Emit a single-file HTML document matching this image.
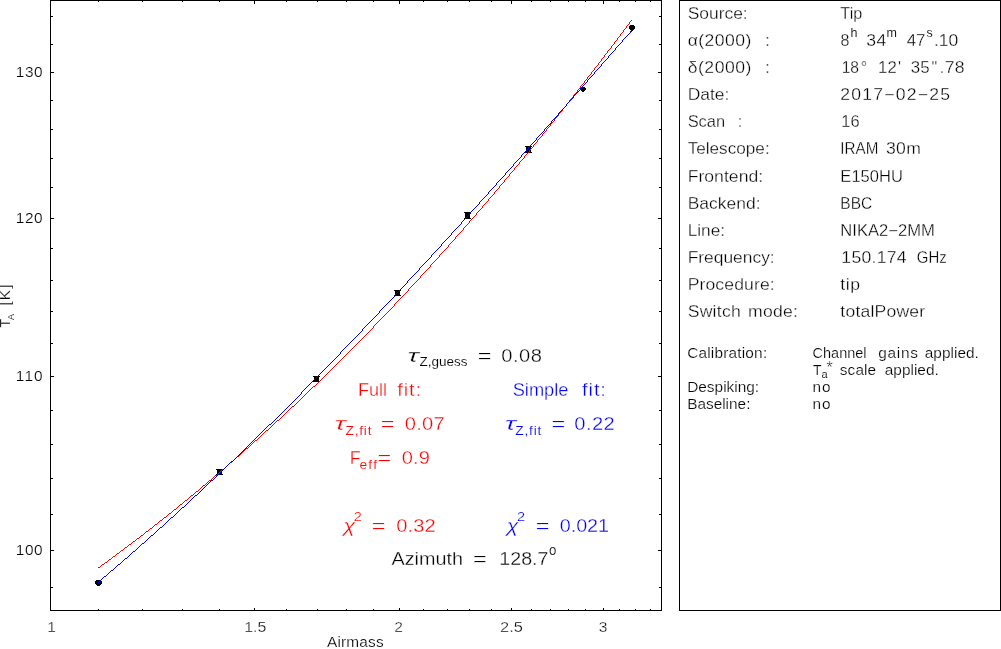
<!DOCTYPE html><html><head><meta charset="utf-8"><title>Tip</title><style>
html,body{margin:0;padding:0;background:#fff;}body{width:1001px;height:649px;overflow:hidden;font-family:"Liberation Sans",sans-serif;}
svg{display:block;position:absolute;left:0;top:0}
text{font-family:"Liberation Sans",sans-serif;fill:#000;stroke:#fff;stroke-width:0.3px;paint-order:fill stroke}
text.s{stroke-width:0.2px}text.n{stroke-width:0.12px}
.r{fill:#ff0000}.b{fill:#0000ff}
</style></head><body>
<svg width="1001" height="649" viewBox="0 0 1001 649" style="will-change:transform">
<rect x="0" y="0" width="1001" height="649" fill="#fff"/>
<g fill="#000" shape-rendering="crispEdges">
<path d="M50 0h612v1h-612zM50 610h612v1h-612zM50 0h1v611h-1zM661 0h1v611h-1zM679 0h322v1h-322zM679 610h322v1h-322zM679 0h1v611h-1zM1000 0h1v611h-1zM98 0h1v2h-1zM98 609h1v2h-1zM142 0h1v2h-1zM142 609h1v2h-1zM182 0h1v2h-1zM182 609h1v2h-1zM219 0h1v2h-1zM219 609h1v2h-1zM254 0h1v4h-1zM254 608h1v3h-1zM286 0h1v2h-1zM286 609h1v2h-1zM317 0h1v2h-1zM317 609h1v2h-1zM346 0h1v2h-1zM346 609h1v2h-1zM373 0h1v2h-1zM373 609h1v2h-1zM399 0h1v4h-1zM399 608h1v3h-1zM423 0h1v2h-1zM423 609h1v2h-1zM447 0h1v2h-1zM447 609h1v2h-1zM469 0h1v2h-1zM469 609h1v2h-1zM491 0h1v2h-1zM491 609h1v2h-1zM511 0h1v4h-1zM511 608h1v3h-1zM531 0h1v2h-1zM531 609h1v2h-1zM550 0h1v2h-1zM550 609h1v2h-1zM568 0h1v2h-1zM568 609h1v2h-1zM585 0h1v2h-1zM585 609h1v2h-1zM603 0h1v4h-1zM603 608h1v3h-1zM619 0h1v2h-1zM619 609h1v2h-1zM635 0h1v2h-1zM635 609h1v2h-1zM650 0h1v2h-1zM650 609h1v2h-1zM50 587h3v1h-3zM659 587h3v1h-3zM50 550h4v1h-4zM658 550h4v1h-4zM50 514h3v1h-3zM659 514h3v1h-3zM50 478h3v1h-3zM659 478h3v1h-3zM50 444h3v1h-3zM659 444h3v1h-3zM50 410h3v1h-3zM659 410h3v1h-3zM50 376h4v1h-4zM658 376h4v1h-4zM50 343h3v1h-3zM659 343h3v1h-3zM50 311h3v1h-3zM659 311h3v1h-3zM50 280h3v1h-3zM659 280h3v1h-3zM50 248h3v1h-3zM659 248h3v1h-3zM50 218h4v1h-4zM658 218h4v1h-4zM50 187h3v1h-3zM659 187h3v1h-3zM50 158h3v1h-3zM659 158h3v1h-3zM50 129h3v1h-3zM659 129h3v1h-3zM50 100h3v1h-3zM659 100h3v1h-3zM50 72h4v1h-4zM658 72h4v1h-4zM50 44h3v1h-3zM659 44h3v1h-3zM50 16h3v1h-3zM659 16h3v1h-3z"/>
</g>
<g fill="#000" shape-rendering="crispEdges">
<path d="M96 580h5v1h1v3h-1v1h-1v1h-3v-1h-1v-1h-1v-3h1z"/>
<path d="M216 469h7v1h-1v4h1v1h-7v-1h1v-4h-1z"/>
<path d="M313 376h7v1h-1v4h1v1h-7v-1h1v-4h-1z"/>
<path d="M394 290h7v1h-1v4h1v1h-7v-1h1v-4h-1z"/>
<path d="M464 212h7v1h-1v5h1v1h-7v-1h1v-5h-1z"/>
<path d="M525 146h7v1h-1v5h1v1h-7v-1h1v-5h-1z"/>
<path d="M581 87h4v1h1v2h-1v1h-1v1h-2v-1h-1v-1h-1v-2h1z"/>
<path d="M630 25h4v1h1v3h-1v1h-1v1h-2v-1h-1v-1h-1v-3h1z"/>
</g>
<g shape-rendering="crispEdges">
<path fill="#ff0000" d="M98 567h1v1h-1zM99 567h1v1h-1zM100 566h1v1h-1zM101 565h1v1h-1zM102 564h1v1h-1zM103 564h1v1h-1zM104 563h1v1h-1zM105 562h1v1h-1zM106 562h1v1h-1zM107 561h1v1h-1zM108 560h1v1h-1zM109 559h1v1h-1zM110 559h1v1h-1zM111 558h1v1h-1zM112 557h1v1h-1zM113 556h1v1h-1zM114 556h1v1h-1zM115 555h1v1h-1zM116 554h1v1h-1zM117 553h1v1h-1zM118 553h1v1h-1zM119 552h1v1h-1zM120 551h1v1h-1zM121 550h1v1h-1zM122 550h1v1h-1zM123 549h1v1h-1zM124 548h1v1h-1zM125 547h1v1h-1zM126 547h1v1h-1zM127 546h1v1h-1zM128 545h1v1h-1zM129 544h1v1h-1zM130 544h1v1h-1zM131 543h1v1h-1zM132 542h1v1h-1zM133 541h1v1h-1zM134 541h1v1h-1zM135 540h1v1h-1zM136 539h1v1h-1zM137 538h1v1h-1zM138 538h1v1h-1zM139 537h1v1h-1zM140 536h1v1h-1zM141 535h1v1h-1zM142 535h1v1h-1zM143 534h1v1h-1zM144 533h1v1h-1zM145 532h1v1h-1zM146 531h1v1h-1zM147 531h1v1h-1zM148 530h1v1h-1zM149 529h1v1h-1zM150 528h1v1h-1zM151 528h1v1h-1zM152 527h1v1h-1zM153 526h1v1h-1zM154 525h1v1h-1zM155 524h1v1h-1zM156 524h1v1h-1zM157 523h1v1h-1zM158 522h1v1h-1zM159 521h1v1h-1zM160 520h1v1h-1zM161 520h1v1h-1zM162 519h1v1h-1zM163 518h1v1h-1zM164 517h1v1h-1zM165 517h1v1h-1zM166 516h1v1h-1zM167 515h1v1h-1zM168 514h1v1h-1zM169 513h1v1h-1zM170 513h1v1h-1zM171 512h1v1h-1zM172 511h1v1h-1zM173 510h1v1h-1zM174 509h1v1h-1zM175 509h1v1h-1zM176 508h1v1h-1zM177 507h1v1h-1zM178 506h1v1h-1zM179 505h1v1h-1zM180 504h1v1h-1zM181 504h1v1h-1zM182 503h1v1h-1zM183 502h1v1h-1zM184 501h1v1h-1zM185 500h1v1h-1zM186 500h1v1h-1zM187 499h1v1h-1zM188 498h1v1h-1zM189 497h1v1h-1zM190 496h1v1h-1zM191 495h1v1h-1zM192 495h1v1h-1zM193 494h1v1h-1zM194 493h1v1h-1zM195 492h1v1h-1zM196 491h1v1h-1zM197 491h1v1h-1zM198 490h1v1h-1zM199 489h1v1h-1zM200 488h1v1h-1zM201 487h1v1h-1zM202 486h1v1h-1zM203 485h1v1h-1zM204 485h1v1h-1zM205 484h1v1h-1zM206 483h1v1h-1zM207 482h1v1h-1zM208 481h1v1h-1zM209 480h1v1h-1zM210 480h1v1h-1zM211 479h1v1h-1zM212 478h1v1h-1zM213 477h1v1h-1zM214 476h1v1h-1zM215 475h1v1h-1zM216 475h1v1h-1zM217 474h1v1h-1zM218 473h1v1h-1zM219 472h1v1h-1zM220 471h1v1h-1zM221 470h1v1h-1zM222 469h1v1h-1zM223 469h1v1h-1zM224 468h1v1h-1zM225 467h1v1h-1zM226 466h1v1h-1zM227 465h1v1h-1zM228 464h1v1h-1zM229 463h1v1h-1zM230 462h1v1h-1zM231 462h1v1h-1zM232 461h1v1h-1zM233 460h1v1h-1zM234 459h1v1h-1zM235 458h1v1h-1zM236 457h1v1h-1zM237 456h1v1h-1zM238 456h1v1h-1zM239 455h1v1h-1zM240 454h1v1h-1zM241 453h1v1h-1zM242 452h1v1h-1zM243 451h1v1h-1zM244 450h1v1h-1zM245 449h1v1h-1zM246 448h1v1h-1zM247 448h1v1h-1zM248 447h1v1h-1zM249 446h1v1h-1zM250 445h1v1h-1zM251 444h1v1h-1zM252 443h1v1h-1zM253 442h1v1h-1zM254 441h1v1h-1zM255 440h1v1h-1zM256 440h1v1h-1zM257 439h1v1h-1zM258 438h1v1h-1zM259 437h1v1h-1zM260 436h1v1h-1zM261 435h1v1h-1zM262 434h1v1h-1zM263 433h1v1h-1zM264 432h1v1h-1zM265 431h1v1h-1zM266 430h1v1h-1zM267 430h1v1h-1zM268 429h1v1h-1zM269 428h1v1h-1zM270 427h1v1h-1zM271 426h1v1h-1zM272 425h1v1h-1zM273 424h1v1h-1zM274 423h1v1h-1zM275 422h1v1h-1zM276 421h1v1h-1zM277 420h1v1h-1zM278 420h1v1h-1zM279 419h1v1h-1zM280 418h1v1h-1zM281 417h1v1h-1zM282 416h1v1h-1zM283 415h1v1h-1zM284 414h1v1h-1zM285 413h1v1h-1zM286 412h1v1h-1zM287 411h1v1h-1zM288 410h1v1h-1zM289 409h1v1h-1zM290 408h1v1h-1zM291 407h1v1h-1zM292 406h1v1h-1zM293 406h1v1h-1zM294 405h1v1h-1zM295 404h1v1h-1zM296 403h1v1h-1zM297 402h1v1h-1zM298 401h1v1h-1zM299 400h1v1h-1zM300 399h1v1h-1zM301 398h1v1h-1zM302 397h1v1h-1zM303 396h1v1h-1zM304 395h1v1h-1zM305 394h1v1h-1zM306 393h1v1h-1zM307 392h1v1h-1zM308 391h1v1h-1zM309 390h1v1h-1zM310 389h1v1h-1zM311 388h1v1h-1zM312 387h1v1h-1zM313 386h1v1h-1zM314 386h1v1h-1zM315 385h1v1h-1zM316 384h1v1h-1zM317 383h1v1h-1zM318 382h1v1h-1zM319 381h1v1h-1zM320 380h1v1h-1zM321 379h1v1h-1zM322 378h1v1h-1zM323 377h1v1h-1zM324 376h1v1h-1zM325 375h1v1h-1zM326 374h1v1h-1zM327 373h1v1h-1zM328 372h1v1h-1zM329 371h1v1h-1zM330 370h1v1h-1zM331 369h1v1h-1zM332 368h1v1h-1zM333 367h1v1h-1zM334 366h1v1h-1zM335 365h1v1h-1zM336 364h1v1h-1zM337 363h1v1h-1zM338 362h1v1h-1zM339 361h1v1h-1zM340 360h1v1h-1zM341 359h1v1h-1zM342 358h1v1h-1zM343 357h1v1h-1zM344 356h1v1h-1zM345 355h1v1h-1zM346 354h1v1h-1zM347 353h1v1h-1zM348 352h1v1h-1zM349 351h1v1h-1zM350 350h1v1h-1zM351 349h1v1h-1zM352 348h1v1h-1zM353 347h1v1h-1zM354 346h1v1h-1zM355 345h1v1h-1zM356 344h1v1h-1zM357 343h1v1h-1zM358 342h1v1h-1zM359 341h1v1h-1zM360 340h1v1h-1zM361 339h1v1h-1zM362 338h1v1h-1zM363 337h1v1h-1zM364 336h1v1h-1zM365 335h1v1h-1zM366 334h1v1h-1zM367 333h1v1h-1zM368 332h1v1h-1zM369 331h1v1h-1zM370 330h1v1h-1zM371 329h1v1h-1zM372 328h1v1h-1zM373 327h1v1h-1zM373 326h1v1h-1zM374 325h1v1h-1zM375 324h1v1h-1zM376 323h1v1h-1zM377 322h1v1h-1zM378 321h1v1h-1zM379 320h1v1h-1zM380 319h1v1h-1zM381 318h1v1h-1zM382 317h1v1h-1zM383 316h1v1h-1zM384 315h1v1h-1zM385 314h1v1h-1zM386 313h1v1h-1zM387 312h1v1h-1zM388 311h1v1h-1zM389 310h1v1h-1zM390 309h1v1h-1zM391 308h1v1h-1zM392 307h1v1h-1zM393 306h1v1h-1zM394 305h1v1h-1zM394 304h1v1h-1zM395 303h1v1h-1zM396 302h1v1h-1zM397 301h1v1h-1zM398 300h1v1h-1zM399 299h1v1h-1zM400 298h1v1h-1zM401 297h1v1h-1zM402 296h1v1h-1zM403 295h1v1h-1zM404 294h1v1h-1zM405 293h1v1h-1zM406 292h1v1h-1zM407 291h1v1h-1zM408 290h1v1h-1zM408 289h1v1h-1zM409 288h1v1h-1zM410 287h1v1h-1zM411 286h1v1h-1zM412 285h1v1h-1zM413 284h1v1h-1zM414 283h1v1h-1zM415 282h1v1h-1zM416 281h1v1h-1zM417 280h1v1h-1zM418 279h1v1h-1zM419 278h1v1h-1zM420 277h1v1h-1zM420 276h1v1h-1zM421 275h1v1h-1zM422 274h1v1h-1zM423 273h1v1h-1zM424 272h1v1h-1zM425 271h1v1h-1zM426 270h1v1h-1zM427 269h1v1h-1zM428 268h1v1h-1zM429 267h1v1h-1zM430 266h1v1h-1zM430 265h1v1h-1zM431 264h1v1h-1zM432 263h1v1h-1zM433 262h1v1h-1zM434 261h1v1h-1zM435 260h1v1h-1zM436 259h1v1h-1zM437 258h1v1h-1zM438 257h1v1h-1zM439 256h1v1h-1zM439 255h1v1h-1zM440 254h1v1h-1zM441 253h1v1h-1zM442 252h1v1h-1zM443 251h1v1h-1zM444 250h1v1h-1zM445 249h1v1h-1zM446 248h1v1h-1zM447 247h1v1h-1zM448 246h1v1h-1zM448 245h1v1h-1zM449 244h1v1h-1zM450 243h1v1h-1zM451 242h1v1h-1zM452 241h1v1h-1zM453 240h1v1h-1zM454 239h1v1h-1zM455 238h1v1h-1zM455 237h1v1h-1zM456 236h1v1h-1zM457 235h1v1h-1zM458 234h1v1h-1zM459 233h1v1h-1zM460 232h1v1h-1zM461 231h1v1h-1zM462 230h1v1h-1zM463 229h1v1h-1zM463 228h1v1h-1zM464 227h1v1h-1zM465 226h1v1h-1zM466 225h1v1h-1zM467 224h1v1h-1zM468 223h1v1h-1zM469 222h1v1h-1zM469 221h1v1h-1zM470 220h1v1h-1zM471 219h1v1h-1zM472 218h1v1h-1zM473 217h1v1h-1zM474 216h1v1h-1zM475 215h1v1h-1zM476 214h1v1h-1zM476 213h1v1h-1zM477 212h1v1h-1zM478 211h1v1h-1zM479 210h1v1h-1zM480 209h1v1h-1zM481 208h1v1h-1zM482 207h1v1h-1zM482 206h1v1h-1zM483 205h1v1h-1zM484 204h1v1h-1zM485 203h1v1h-1zM486 202h1v1h-1zM487 201h1v1h-1zM488 200h1v1h-1zM488 199h1v1h-1zM489 198h1v1h-1zM490 197h1v1h-1zM491 196h1v1h-1zM492 195h1v1h-1zM493 194h1v1h-1zM494 193h1v1h-1zM494 192h1v1h-1zM495 191h1v1h-1zM496 190h1v1h-1zM497 189h1v1h-1zM498 188h1v1h-1zM499 187h1v1h-1zM499 186h1v1h-1zM500 185h1v1h-1zM501 184h1v1h-1zM502 183h1v1h-1zM503 182h1v1h-1zM504 181h1v1h-1zM504 180h1v1h-1zM505 179h1v1h-1zM506 178h1v1h-1zM507 177h1v1h-1zM508 176h1v1h-1zM509 175h1v1h-1zM509 174h1v1h-1zM510 173h1v1h-1zM511 172h1v1h-1zM512 171h1v1h-1zM513 170h1v1h-1zM514 169h1v1h-1zM514 168h1v1h-1zM515 167h1v1h-1zM516 166h1v1h-1zM517 165h1v1h-1zM518 164h1v1h-1zM519 163h1v1h-1zM519 162h1v1h-1zM520 161h1v1h-1zM521 160h1v1h-1zM522 159h1v1h-1zM523 158h1v1h-1zM524 157h1v1h-1zM524 156h1v1h-1zM525 155h1v1h-1zM526 154h1v1h-1zM527 153h1v1h-1zM528 152h1v1h-1zM529 151h1v1h-1zM529 150h1v1h-1zM530 149h1v1h-1zM531 148h1v1h-1zM532 147h1v1h-1zM533 146h1v1h-1zM533 145h1v1h-1zM534 144h1v1h-1zM535 143h1v1h-1zM536 142h1v1h-1zM537 141h1v1h-1zM537 140h1v1h-1zM538 139h1v1h-1zM539 138h1v1h-1zM540 137h1v1h-1zM541 136h1v1h-1zM542 135h1v1h-1zM542 134h1v1h-1zM543 133h1v1h-1zM544 132h1v1h-1zM545 131h1v1h-1zM546 130h1v1h-1zM546 129h1v1h-1zM547 128h1v1h-1zM548 127h1v1h-1zM549 126h1v1h-1zM550 125h1v1h-1zM550 124h1v1h-1zM551 123h1v1h-1zM552 122h1v1h-1zM553 121h1v1h-1zM554 120h1v1h-1zM554 119h1v1h-1zM555 118h1v1h-1zM556 117h1v1h-1zM557 116h1v1h-1zM558 115h1v1h-1zM558 114h1v1h-1zM559 113h1v1h-1zM560 112h1v1h-1zM561 111h1v1h-1zM562 110h1v1h-1zM562 109h1v1h-1zM563 108h1v1h-1zM564 107h1v1h-1zM565 106h1v1h-1zM566 105h1v1h-1zM566 104h1v1h-1zM567 103h1v1h-1zM568 102h1v1h-1zM569 101h1v1h-1zM569 100h1v1h-1zM570 99h1v1h-1zM571 98h1v1h-1zM572 97h1v1h-1zM573 96h1v1h-1zM573 95h1v1h-1zM574 94h1v1h-1zM575 93h1v1h-1zM576 92h1v1h-1zM577 91h1v1h-1zM577 90h1v1h-1zM578 89h1v1h-1zM579 88h1v1h-1zM580 87h1v1h-1zM580 86h1v1h-1zM581 85h1v1h-1zM582 84h1v1h-1zM583 83h1v1h-1zM584 82h1v1h-1zM584 81h1v1h-1zM585 80h1v1h-1zM586 79h1v1h-1zM587 78h1v1h-1zM587 77h1v1h-1zM588 76h1v1h-1zM589 75h1v1h-1zM590 74h1v1h-1zM591 73h1v1h-1zM591 72h1v1h-1zM592 71h1v1h-1zM593 70h1v1h-1zM594 69h1v1h-1zM594 68h1v1h-1zM595 67h1v1h-1zM596 66h1v1h-1zM597 65h1v1h-1zM598 64h1v1h-1zM598 63h1v1h-1zM599 62h1v1h-1zM600 61h1v1h-1zM601 60h1v1h-1zM601 59h1v1h-1zM602 58h1v1h-1zM603 57h1v1h-1zM604 56h1v1h-1zM604 55h1v1h-1zM605 54h1v1h-1zM606 53h1v1h-1zM607 52h1v1h-1zM607 51h1v1h-1zM608 50h1v1h-1zM609 49h1v1h-1zM610 48h1v1h-1zM611 47h1v1h-1zM611 46h1v1h-1zM612 45h1v1h-1zM613 44h1v1h-1zM614 43h1v1h-1zM614 42h1v1h-1zM615 41h1v1h-1zM616 40h1v1h-1zM617 39h1v1h-1zM617 38h1v1h-1zM618 37h1v1h-1zM619 36h1v1h-1zM620 35h1v1h-1zM620 34h1v1h-1zM621 33h1v1h-1zM622 32h1v1h-1zM623 31h1v1h-1zM623 30h1v1h-1zM624 29h1v1h-1zM625 28h1v1h-1zM626 27h1v1h-1zM626 26h1v1h-1zM627 25h1v1h-1zM628 24h1v1h-1zM629 23h1v1h-1zM629 22h1v1h-1zM630 21h1v1h-1zM631 20h1v1h-1z"/>
<path fill="#0000ff" d="M98 582h1v1h-1zM99 581h1v1h-1zM100 580h1v1h-1zM101 579h1v1h-1zM102 578h1v1h-1zM103 577h1v1h-1zM104 576h1v1h-1zM105 576h1v1h-1zM106 575h1v1h-1zM107 574h1v1h-1zM108 573h1v1h-1zM109 572h1v1h-1zM110 571h1v1h-1zM111 570h1v1h-1zM112 570h1v1h-1zM113 569h1v1h-1zM114 568h1v1h-1zM115 567h1v1h-1zM116 566h1v1h-1zM117 565h1v1h-1zM118 564h1v1h-1zM119 564h1v1h-1zM120 563h1v1h-1zM121 562h1v1h-1zM122 561h1v1h-1zM123 560h1v1h-1zM124 559h1v1h-1zM125 558h1v1h-1zM126 558h1v1h-1zM127 557h1v1h-1zM128 556h1v1h-1zM129 555h1v1h-1zM130 554h1v1h-1zM131 553h1v1h-1zM132 552h1v1h-1zM133 551h1v1h-1zM134 551h1v1h-1zM135 550h1v1h-1zM136 549h1v1h-1zM137 548h1v1h-1zM138 547h1v1h-1zM139 546h1v1h-1zM140 545h1v1h-1zM141 544h1v1h-1zM142 543h1v1h-1zM143 543h1v1h-1zM144 542h1v1h-1zM145 541h1v1h-1zM146 540h1v1h-1zM147 539h1v1h-1zM148 538h1v1h-1zM149 537h1v1h-1zM150 536h1v1h-1zM151 535h1v1h-1zM152 535h1v1h-1zM153 534h1v1h-1zM154 533h1v1h-1zM155 532h1v1h-1zM156 531h1v1h-1zM157 530h1v1h-1zM158 529h1v1h-1zM159 528h1v1h-1zM160 527h1v1h-1zM161 527h1v1h-1zM162 526h1v1h-1zM163 525h1v1h-1zM164 524h1v1h-1zM165 523h1v1h-1zM166 522h1v1h-1zM167 521h1v1h-1zM168 520h1v1h-1zM169 519h1v1h-1zM170 518h1v1h-1zM171 517h1v1h-1zM172 517h1v1h-1zM173 516h1v1h-1zM174 515h1v1h-1zM175 514h1v1h-1zM176 513h1v1h-1zM177 512h1v1h-1zM178 511h1v1h-1zM179 510h1v1h-1zM180 509h1v1h-1zM181 508h1v1h-1zM182 507h1v1h-1zM183 507h1v1h-1zM184 506h1v1h-1zM185 505h1v1h-1zM186 504h1v1h-1zM187 503h1v1h-1zM188 502h1v1h-1zM189 501h1v1h-1zM190 500h1v1h-1zM191 499h1v1h-1zM192 498h1v1h-1zM193 497h1v1h-1zM194 496h1v1h-1zM195 495h1v1h-1zM196 495h1v1h-1zM197 494h1v1h-1zM198 493h1v1h-1zM199 492h1v1h-1zM200 491h1v1h-1zM201 490h1v1h-1zM202 489h1v1h-1zM203 488h1v1h-1zM204 487h1v1h-1zM205 486h1v1h-1zM206 485h1v1h-1zM207 484h1v1h-1zM208 483h1v1h-1zM209 482h1v1h-1zM210 481h1v1h-1zM211 480h1v1h-1zM212 480h1v1h-1zM213 479h1v1h-1zM214 478h1v1h-1zM215 477h1v1h-1zM216 476h1v1h-1zM217 475h1v1h-1zM218 474h1v1h-1zM219 473h1v1h-1zM220 472h1v1h-1zM221 471h1v1h-1zM222 470h1v1h-1zM223 469h1v1h-1zM224 468h1v1h-1zM225 467h1v1h-1zM226 466h1v1h-1zM227 465h1v1h-1zM228 464h1v1h-1zM229 463h1v1h-1zM230 462h1v1h-1zM231 461h1v1h-1zM232 461h1v1h-1zM233 460h1v1h-1zM234 459h1v1h-1zM235 458h1v1h-1zM236 457h1v1h-1zM237 456h1v1h-1zM238 455h1v1h-1zM239 454h1v1h-1zM240 453h1v1h-1zM241 452h1v1h-1zM242 451h1v1h-1zM243 450h1v1h-1zM244 449h1v1h-1zM245 448h1v1h-1zM246 447h1v1h-1zM247 446h1v1h-1zM248 445h1v1h-1zM249 444h1v1h-1zM250 443h1v1h-1zM251 442h1v1h-1zM252 441h1v1h-1zM253 440h1v1h-1zM254 439h1v1h-1zM255 438h1v1h-1zM256 437h1v1h-1zM257 436h1v1h-1zM258 435h1v1h-1zM259 434h1v1h-1zM260 433h1v1h-1zM261 432h1v1h-1zM262 431h1v1h-1zM263 430h1v1h-1zM264 429h1v1h-1zM265 428h1v1h-1zM266 427h1v1h-1zM267 426h1v1h-1zM268 425h1v1h-1zM269 424h1v1h-1zM270 424h1v1h-1zM271 423h1v1h-1zM272 422h1v1h-1zM273 421h1v1h-1zM274 420h1v1h-1zM275 419h1v1h-1zM276 418h1v1h-1zM277 417h1v1h-1zM278 416h1v1h-1zM279 415h1v1h-1zM280 414h1v1h-1zM281 413h1v1h-1zM282 412h1v1h-1zM283 411h1v1h-1zM284 410h1v1h-1zM285 409h1v1h-1zM286 408h1v1h-1zM287 407h1v1h-1zM288 406h1v1h-1zM289 405h1v1h-1zM290 404h1v1h-1zM291 403h1v1h-1zM292 402h1v1h-1zM293 401h1v1h-1zM294 400h1v1h-1zM295 399h1v1h-1zM296 398h1v1h-1zM297 397h1v1h-1zM298 396h1v1h-1zM299 395h1v1h-1zM300 394h1v1h-1zM301 393h1v1h-1zM301 392h1v1h-1zM302 391h1v1h-1zM303 390h1v1h-1zM304 389h1v1h-1zM305 388h1v1h-1zM306 387h1v1h-1zM307 386h1v1h-1zM308 385h1v1h-1zM309 384h1v1h-1zM310 383h1v1h-1zM311 382h1v1h-1zM312 381h1v1h-1zM313 380h1v1h-1zM314 379h1v1h-1zM315 378h1v1h-1zM316 377h1v1h-1zM317 376h1v1h-1zM318 375h1v1h-1zM319 374h1v1h-1zM320 373h1v1h-1zM321 372h1v1h-1zM322 371h1v1h-1zM323 370h1v1h-1zM324 369h1v1h-1zM325 368h1v1h-1zM326 367h1v1h-1zM327 366h1v1h-1zM328 365h1v1h-1zM329 364h1v1h-1zM330 363h1v1h-1zM331 362h1v1h-1zM332 361h1v1h-1zM333 360h1v1h-1zM334 359h1v1h-1zM335 358h1v1h-1zM336 357h1v1h-1zM337 356h1v1h-1zM338 355h1v1h-1zM339 354h1v1h-1zM340 353h1v1h-1zM340 352h1v1h-1zM341 351h1v1h-1zM342 350h1v1h-1zM343 349h1v1h-1zM344 348h1v1h-1zM345 347h1v1h-1zM346 346h1v1h-1zM347 345h1v1h-1zM348 344h1v1h-1zM349 343h1v1h-1zM350 342h1v1h-1zM351 341h1v1h-1zM352 340h1v1h-1zM353 339h1v1h-1zM354 338h1v1h-1zM355 337h1v1h-1zM356 336h1v1h-1zM357 335h1v1h-1zM358 334h1v1h-1zM359 333h1v1h-1zM360 332h1v1h-1zM361 331h1v1h-1zM362 330h1v1h-1zM362 329h1v1h-1zM363 328h1v1h-1zM364 327h1v1h-1zM365 326h1v1h-1zM366 325h1v1h-1zM367 324h1v1h-1zM368 323h1v1h-1zM369 322h1v1h-1zM370 321h1v1h-1zM371 320h1v1h-1zM372 319h1v1h-1zM373 318h1v1h-1zM374 317h1v1h-1zM375 316h1v1h-1zM376 315h1v1h-1zM377 314h1v1h-1zM378 313h1v1h-1zM379 312h1v1h-1zM379 311h1v1h-1zM380 310h1v1h-1zM381 309h1v1h-1zM382 308h1v1h-1zM383 307h1v1h-1zM384 306h1v1h-1zM385 305h1v1h-1zM386 304h1v1h-1zM387 303h1v1h-1zM388 302h1v1h-1zM389 301h1v1h-1zM390 300h1v1h-1zM391 299h1v1h-1zM392 298h1v1h-1zM393 297h1v1h-1zM394 296h1v1h-1zM394 295h1v1h-1zM395 294h1v1h-1zM396 293h1v1h-1zM397 292h1v1h-1zM398 291h1v1h-1zM399 290h1v1h-1zM400 289h1v1h-1zM401 288h1v1h-1zM402 287h1v1h-1zM403 286h1v1h-1zM404 285h1v1h-1zM405 284h1v1h-1zM406 283h1v1h-1zM407 282h1v1h-1zM407 281h1v1h-1zM408 280h1v1h-1zM409 279h1v1h-1zM410 278h1v1h-1zM411 277h1v1h-1zM412 276h1v1h-1zM413 275h1v1h-1zM414 274h1v1h-1zM415 273h1v1h-1zM416 272h1v1h-1zM417 271h1v1h-1zM418 270h1v1h-1zM419 269h1v1h-1zM419 268h1v1h-1zM420 267h1v1h-1zM421 266h1v1h-1zM422 265h1v1h-1zM423 264h1v1h-1zM424 263h1v1h-1zM425 262h1v1h-1zM426 261h1v1h-1zM427 260h1v1h-1zM428 259h1v1h-1zM429 258h1v1h-1zM430 257h1v1h-1zM431 256h1v1h-1zM431 255h1v1h-1zM432 254h1v1h-1zM433 253h1v1h-1zM434 252h1v1h-1zM435 251h1v1h-1zM436 250h1v1h-1zM437 249h1v1h-1zM438 248h1v1h-1zM439 247h1v1h-1zM440 246h1v1h-1zM441 245h1v1h-1zM441 244h1v1h-1zM442 243h1v1h-1zM443 242h1v1h-1zM444 241h1v1h-1zM445 240h1v1h-1zM446 239h1v1h-1zM447 238h1v1h-1zM448 237h1v1h-1zM449 236h1v1h-1zM450 235h1v1h-1zM451 234h1v1h-1zM451 233h1v1h-1zM452 232h1v1h-1zM453 231h1v1h-1zM454 230h1v1h-1zM455 229h1v1h-1zM456 228h1v1h-1zM457 227h1v1h-1zM458 226h1v1h-1zM459 225h1v1h-1zM460 224h1v1h-1zM461 223h1v1h-1zM461 222h1v1h-1zM462 221h1v1h-1zM463 220h1v1h-1zM464 219h1v1h-1zM465 218h1v1h-1zM466 217h1v1h-1zM467 216h1v1h-1zM468 215h1v1h-1zM469 214h1v1h-1zM470 213h1v1h-1zM470 212h1v1h-1zM471 211h1v1h-1zM472 210h1v1h-1zM473 209h1v1h-1zM474 208h1v1h-1zM475 207h1v1h-1zM476 206h1v1h-1zM477 205h1v1h-1zM478 204h1v1h-1zM479 203h1v1h-1zM479 202h1v1h-1zM480 201h1v1h-1zM481 200h1v1h-1zM482 199h1v1h-1zM483 198h1v1h-1zM484 197h1v1h-1zM485 196h1v1h-1zM486 195h1v1h-1zM487 194h1v1h-1zM488 193h1v1h-1zM488 192h1v1h-1zM489 191h1v1h-1zM490 190h1v1h-1zM491 189h1v1h-1zM492 188h1v1h-1zM493 187h1v1h-1zM494 186h1v1h-1zM495 185h1v1h-1zM496 184h1v1h-1zM496 183h1v1h-1zM497 182h1v1h-1zM498 181h1v1h-1zM499 180h1v1h-1zM500 179h1v1h-1zM501 178h1v1h-1zM502 177h1v1h-1zM503 176h1v1h-1zM504 175h1v1h-1zM505 174h1v1h-1zM505 173h1v1h-1zM506 172h1v1h-1zM507 171h1v1h-1zM508 170h1v1h-1zM509 169h1v1h-1zM510 168h1v1h-1zM511 167h1v1h-1zM512 166h1v1h-1zM513 165h1v1h-1zM513 164h1v1h-1zM514 163h1v1h-1zM515 162h1v1h-1zM516 161h1v1h-1zM517 160h1v1h-1zM518 159h1v1h-1zM519 158h1v1h-1zM520 157h1v1h-1zM521 156h1v1h-1zM521 155h1v1h-1zM522 154h1v1h-1zM523 153h1v1h-1zM524 152h1v1h-1zM525 151h1v1h-1zM526 150h1v1h-1zM527 149h1v1h-1zM528 148h1v1h-1zM528 147h1v1h-1zM529 146h1v1h-1zM530 145h1v1h-1zM531 144h1v1h-1zM532 143h1v1h-1zM533 142h1v1h-1zM534 141h1v1h-1zM535 140h1v1h-1zM536 139h1v1h-1zM536 138h1v1h-1zM537 137h1v1h-1zM538 136h1v1h-1zM539 135h1v1h-1zM540 134h1v1h-1zM541 133h1v1h-1zM542 132h1v1h-1zM543 131h1v1h-1zM544 130h1v1h-1zM544 129h1v1h-1zM545 128h1v1h-1zM546 127h1v1h-1zM547 126h1v1h-1zM548 125h1v1h-1zM549 124h1v1h-1zM550 123h1v1h-1zM551 122h1v1h-1zM551 121h1v1h-1zM552 120h1v1h-1zM553 119h1v1h-1zM554 118h1v1h-1zM555 117h1v1h-1zM556 116h1v1h-1zM557 115h1v1h-1zM558 114h1v1h-1zM558 113h1v1h-1zM559 112h1v1h-1zM560 111h1v1h-1zM561 110h1v1h-1zM562 109h1v1h-1zM563 108h1v1h-1zM564 107h1v1h-1zM565 106h1v1h-1zM566 105h1v1h-1zM566 104h1v1h-1zM567 103h1v1h-1zM568 102h1v1h-1zM569 101h1v1h-1zM570 100h1v1h-1zM571 99h1v1h-1zM572 98h1v1h-1zM573 97h1v1h-1zM573 96h1v1h-1zM574 95h1v1h-1zM575 94h1v1h-1zM576 93h1v1h-1zM577 92h1v1h-1zM578 91h1v1h-1zM579 90h1v1h-1zM580 89h1v1h-1zM580 88h1v1h-1zM581 87h1v1h-1zM582 86h1v1h-1zM583 85h1v1h-1zM584 84h1v1h-1zM585 83h1v1h-1zM586 82h1v1h-1zM587 81h1v1h-1zM587 80h1v1h-1zM588 79h1v1h-1zM589 78h1v1h-1zM590 77h1v1h-1zM591 76h1v1h-1zM592 75h1v1h-1zM593 74h1v1h-1zM594 73h1v1h-1zM594 72h1v1h-1zM595 71h1v1h-1zM596 70h1v1h-1zM597 69h1v1h-1zM598 68h1v1h-1zM599 67h1v1h-1zM600 66h1v1h-1zM601 65h1v1h-1zM601 64h1v1h-1zM602 63h1v1h-1zM603 62h1v1h-1zM604 61h1v1h-1zM605 60h1v1h-1zM606 59h1v1h-1zM607 58h1v1h-1zM608 57h1v1h-1zM608 56h1v1h-1zM609 55h1v1h-1zM610 54h1v1h-1zM611 53h1v1h-1zM612 52h1v1h-1zM613 51h1v1h-1zM614 50h1v1h-1zM615 49h1v1h-1zM615 48h1v1h-1zM616 47h1v1h-1zM617 46h1v1h-1zM618 45h1v1h-1zM619 44h1v1h-1zM620 43h1v1h-1zM621 42h1v1h-1zM622 41h1v1h-1zM622 40h1v1h-1zM623 39h1v1h-1zM624 38h1v1h-1zM625 37h1v1h-1zM626 36h1v1h-1zM627 35h1v1h-1zM628 34h1v1h-1zM629 33h1v1h-1zM630 32h1v1h-1zM630 31h1v1h-1zM631 31h1v1h-1z"/>
</g>
<text transform="translate(15.84 76.8) scale(1.1000 1)" font-size="14" textLength="24.38" lengthAdjust="spacing" class="s">130</text>
<text transform="translate(15.84 223.2) scale(1.1000 1)" font-size="14" textLength="24.38" lengthAdjust="spacing" class="s">120</text>
<text transform="translate(15.84 381.4) scale(1.1000 1)" font-size="14" textLength="24.38" lengthAdjust="spacing" class="s">110</text>
<text transform="translate(15.84 555.1) scale(1.1000 1)" font-size="14" textLength="24.38" lengthAdjust="spacing" class="s">100</text>
<text x="47.3" y="632" font-size="15.5">1</text>
<text transform="translate(244.18 632) scale(1.0229 1)" font-size="15.5">1.5</text>
<text x="394.3" y="632" font-size="15.5">2</text>
<text transform="translate(500.08 632) scale(1.0553 1)" font-size="15.5">2.5</text>
<text x="598.8" y="632" font-size="15.5">3</text>
<text transform="translate(326.94 647.4) scale(1.1000 1)" font-size="14" textLength="51.56" lengthAdjust="spacing" class="s">Airmass</text>
<g transform="translate(10,327.5) rotate(-90)">
<text x="0" y="0" font-size="14" class="s">T</text>
<text x="7.5" y="3.8" font-size="9" class="n">A</text>
<text transform="translate(21.94 0) scale(1.1000 1)" font-size="14" textLength="19.20" lengthAdjust="spacing" class="s">[K]</text>
</g>
<text transform="translate(687.66 19) scale(1.0895 1)" font-size="16">Source:</text>
<text transform="translate(687.66 45.8) scale(1.1000 1)" font-size="16" textLength="57.98" lengthAdjust="spacing">α(2000)</text>
<text x="765.2" y="45.8" font-size="16">:</text>
<text transform="translate(687.66 72.9) scale(1.1000 1)" font-size="16" textLength="57.98" lengthAdjust="spacing">δ(2000)</text>
<text x="765.2" y="72.9" font-size="16">:</text>
<text transform="translate(687.66 100.2) scale(1.0925 1)" font-size="16">Date:</text>
<text transform="translate(687.66 127.3) scale(1.0277 1)" font-size="16">Scan</text>
<text x="737.8" y="127.3" font-size="16">:</text>
<text transform="translate(687.66 154) scale(1.0730 1)" font-size="16">Telescope:</text>
<text transform="translate(687.66 181.5) scale(1.1000 1)" font-size="16" textLength="68.62" lengthAdjust="spacing">Frontend:</text>
<text transform="translate(687.66 208.9) scale(1.0924 1)" font-size="16">Backend:</text>
<text transform="translate(687.66 236) scale(1.0802 1)" font-size="16">Line:</text>
<text transform="translate(687.66 262.7) scale(1.0879 1)" font-size="16">Frequency:</text>
<text transform="translate(687.66 290) scale(1.1000 1)" font-size="16" textLength="79.16" lengthAdjust="spacing">Procedure:</text>
<text transform="translate(687.66 317) scale(1.1000 1)" font-size="16" textLength="48.25" lengthAdjust="spacing">Switch</text>
<text transform="translate(748.06 317) scale(1.1000 1)" font-size="16" textLength="45.35" lengthAdjust="spacing">mode:</text>
<text transform="translate(840.36 19) scale(1.0114 1)" font-size="16">Tip</text>
<text x="840.4" y="45.8" font-size="16">8</text>
<text x="850.5" y="37.099999999999994" font-size="12.5" class="n">h</text>
<text transform="translate(866.36 45.8) scale(1.1000 1)" font-size="16" textLength="18.16" lengthAdjust="spacing">34</text>
<text x="886.6" y="37.099999999999994" font-size="12.5" class="n">m</text>
<text transform="translate(906.66 45.8) scale(1.0552 1)" font-size="16">47</text>
<text x="926.5" y="37.099999999999994" font-size="12.5" class="n">s</text>
<text transform="translate(933.96 45.8) scale(1.0961 1)" font-size="16">.10</text>
<text transform="translate(841.66 72.9) scale(0.9765 1)" font-size="16">18</text>
<text x="860.8" y="72.9" font-size="16">°</text>
<text transform="translate(878.06 72.9) scale(1.0496 1)" font-size="16">12</text>
<text x="898" y="72.9" font-size="16">'</text>
<text transform="translate(910.86 72.9) scale(1.0552 1)" font-size="16">35</text>
<text x="931.5" y="72.9" font-size="16">"</text>
<text transform="translate(939.56 72.9) scale(1.1000 1)" font-size="16" textLength="22.80" lengthAdjust="spacing">.78</text>
<text transform="translate(840.36 100.2) scale(1.1000 1)" font-size="16" textLength="99.62" lengthAdjust="spacing">2017−02−25</text>
<text transform="translate(841.36 127.3) scale(1.0271 1)" font-size="16">16</text>
<text transform="translate(840.36 154) scale(0.9495 1)" font-size="16">IRAM</text>
<text transform="translate(885.96 154) scale(1.1000 1)" font-size="16" textLength="31.80" lengthAdjust="spacing">30m</text>
<text transform="translate(840.36 181.5) scale(1.0347 1)" font-size="16">E150HU</text>
<text transform="translate(840.36 208.9) scale(0.9690 1)" font-size="16">BBC</text>
<text transform="translate(840.36 236) scale(1.0388 1)" font-size="16">NIKA2−2MM</text>
<text transform="translate(841.36 262.7) scale(1.1000 1)" font-size="16" textLength="59.35" lengthAdjust="spacing">150.174</text>
<text transform="translate(916.76 262.7) scale(0.9369 1)" font-size="16">GHz</text>
<text transform="translate(840.36 290) scale(1.1000 1)" font-size="16" textLength="17.80" lengthAdjust="spacing">tip</text>
<text transform="translate(840.36 317) scale(1.1000 1)" font-size="16" textLength="77.07" lengthAdjust="spacing">totalPower</text>
<text transform="translate(687.14 357.7) scale(1.1000 1)" font-size="14" textLength="72.75" lengthAdjust="spacing" class="s">Calibration:</text>
<text transform="translate(687.14 391.8) scale(1.1000 1)" font-size="14" textLength="65.47" lengthAdjust="spacing" class="s">Despiking:</text>
<text transform="translate(687.14 408.6) scale(1.0994 1)" font-size="14" class="s">Baseline:</text>
<text transform="translate(812.54 357.7) scale(1.0358 1)" font-size="14" class="s">Channel</text>
<text transform="translate(878.24 357.7) scale(1.1000 1)" font-size="14" textLength="36.02" lengthAdjust="spacing" class="s">gains</text>
<text transform="translate(924.74 357.7) scale(1.1000 1)" font-size="14" textLength="49.20" lengthAdjust="spacing" class="s">applied.</text>
<text x="813.1" y="374.6" font-size="14" class="s">T</text>
<text x="821.6" y="378.2" font-size="11" class="n">a</text>
<text x="826.6" y="373.2" font-size="16">*</text>
<text transform="translate(839.84 374.6) scale(1.1000 1)" font-size="14" textLength="33.02" lengthAdjust="spacing" class="s">scale</text>
<text transform="translate(884.74 374.6) scale(1.1000 1)" font-size="14" textLength="49.11" lengthAdjust="spacing" class="s">applied.</text>
<text transform="translate(812.54 391.8) scale(1.1000 1)" font-size="14" textLength="16.47" lengthAdjust="spacing" class="s">no</text>
<text transform="translate(812.54 408.6) scale(1.1000 1)" font-size="14" textLength="16.47" lengthAdjust="spacing" class="s">no</text>
<text transform="translate(407.43 362) scale(1.586 1)" font-size="19" font-style="italic">τ</text>
<text transform="translate(419.5 366.4) scale(1.0818 1)" font-size="12.5" class="n">Z,guess</text>
<text transform="translate(477.70 362) scale(1.282 1)" font-size="18.3">=</text>
<text transform="translate(501.27 362) scale(1.1000 1)" font-size="18.3" textLength="36.88" lengthAdjust="spacing">0.08</text>
<text transform="translate(358.07 396) scale(0.9856 1)" font-size="18.3" class="r">Full</text>
<text transform="translate(397.27 396) scale(1.1000 1)" font-size="18.3" textLength="21.60" lengthAdjust="spacing" class="r">fit:</text>
<text transform="translate(512.67 396) scale(0.9987 1)" font-size="18.3" class="b">Simple</text>
<text transform="translate(582.07 396) scale(1.1000 1)" font-size="18.3" textLength="21.69" lengthAdjust="spacing" class="b">fit:</text>
<text transform="translate(334.43 429.7) scale(1.586 1)" font-size="19" font-style="italic" class="r">τ</text>
<text transform="translate(345.5 434.5) scale(1.1000 1)" font-size="12.5" textLength="23.64" lengthAdjust="spacing" class="r n">Z,fit</text>
<text transform="translate(380.70 429.7) scale(1.282 1)" font-size="18.3" class="r">=</text>
<text transform="translate(404.67 429.7) scale(1.1000 1)" font-size="18.3" textLength="36.42" lengthAdjust="spacing" class="r">0.07</text>
<text transform="translate(504.83 429.7) scale(1.586 1)" font-size="19" font-style="italic" class="b">τ</text>
<text transform="translate(515.3 434.5) scale(1.1000 1)" font-size="12.5" textLength="23.64" lengthAdjust="spacing" class="b n">Z,fit</text>
<text transform="translate(551.50 429.7) scale(1.282 1)" font-size="18.3" class="b">=</text>
<text transform="translate(574.27 429.7) scale(1.1000 1)" font-size="18.3" textLength="36.79" lengthAdjust="spacing" class="b">0.22</text>
<text transform="translate(349.77 464) scale(0.9808 1)" font-size="18.3" class="r">F</text>
<text transform="translate(359.5 468.5) scale(1.1000 1)" font-size="12.5" textLength="15.91" lengthAdjust="spacing" class="r n">eff</text>
<text transform="translate(377.40 464) scale(1.282 1)" font-size="18.3" class="r">=</text>
<text transform="translate(401.77 464) scale(1.1000 1)" font-size="18.3" textLength="25.69" lengthAdjust="spacing" class="r">0.9</text>
<text transform="translate(343.23 531.8) scale(1.153 1)" font-size="19" font-style="italic" class="r">χ</text>
<text transform="translate(353.66 520.6) scale(1.0831 1)" font-size="13.4" class="r s">2</text>
<text transform="translate(371.70 531.8) scale(1.282 1)" font-size="18.3" class="r">=</text>
<text transform="translate(396.27 531.8) scale(1.1000 1)" font-size="18.3" textLength="35.88" lengthAdjust="spacing" class="r">0.32</text>
<text transform="translate(506.43 531.8) scale(1.153 1)" font-size="19" font-style="italic" class="b">χ</text>
<text transform="translate(517.06 520.6) scale(1.0831 1)" font-size="13.4" class="b s">2</text>
<text transform="translate(535.70 531.8) scale(1.282 1)" font-size="18.3" class="b">=</text>
<text transform="translate(559.67 531.8) scale(1.0801 1)" font-size="18.3" class="b">0.021</text>
<text transform="translate(391.47 564.8) scale(1.0825 1)" font-size="18.3">Azimuth</text>
<text transform="translate(473.10 564.8) scale(1.282 1)" font-size="18.3">=</text>
<text transform="translate(499.37 564.8) scale(1.0735 1)" font-size="18.3">128.7</text>
<text transform="translate(549.04 555.4) scale(0.9529 1)" font-size="14" class="s">o</text>
</svg></body></html>
